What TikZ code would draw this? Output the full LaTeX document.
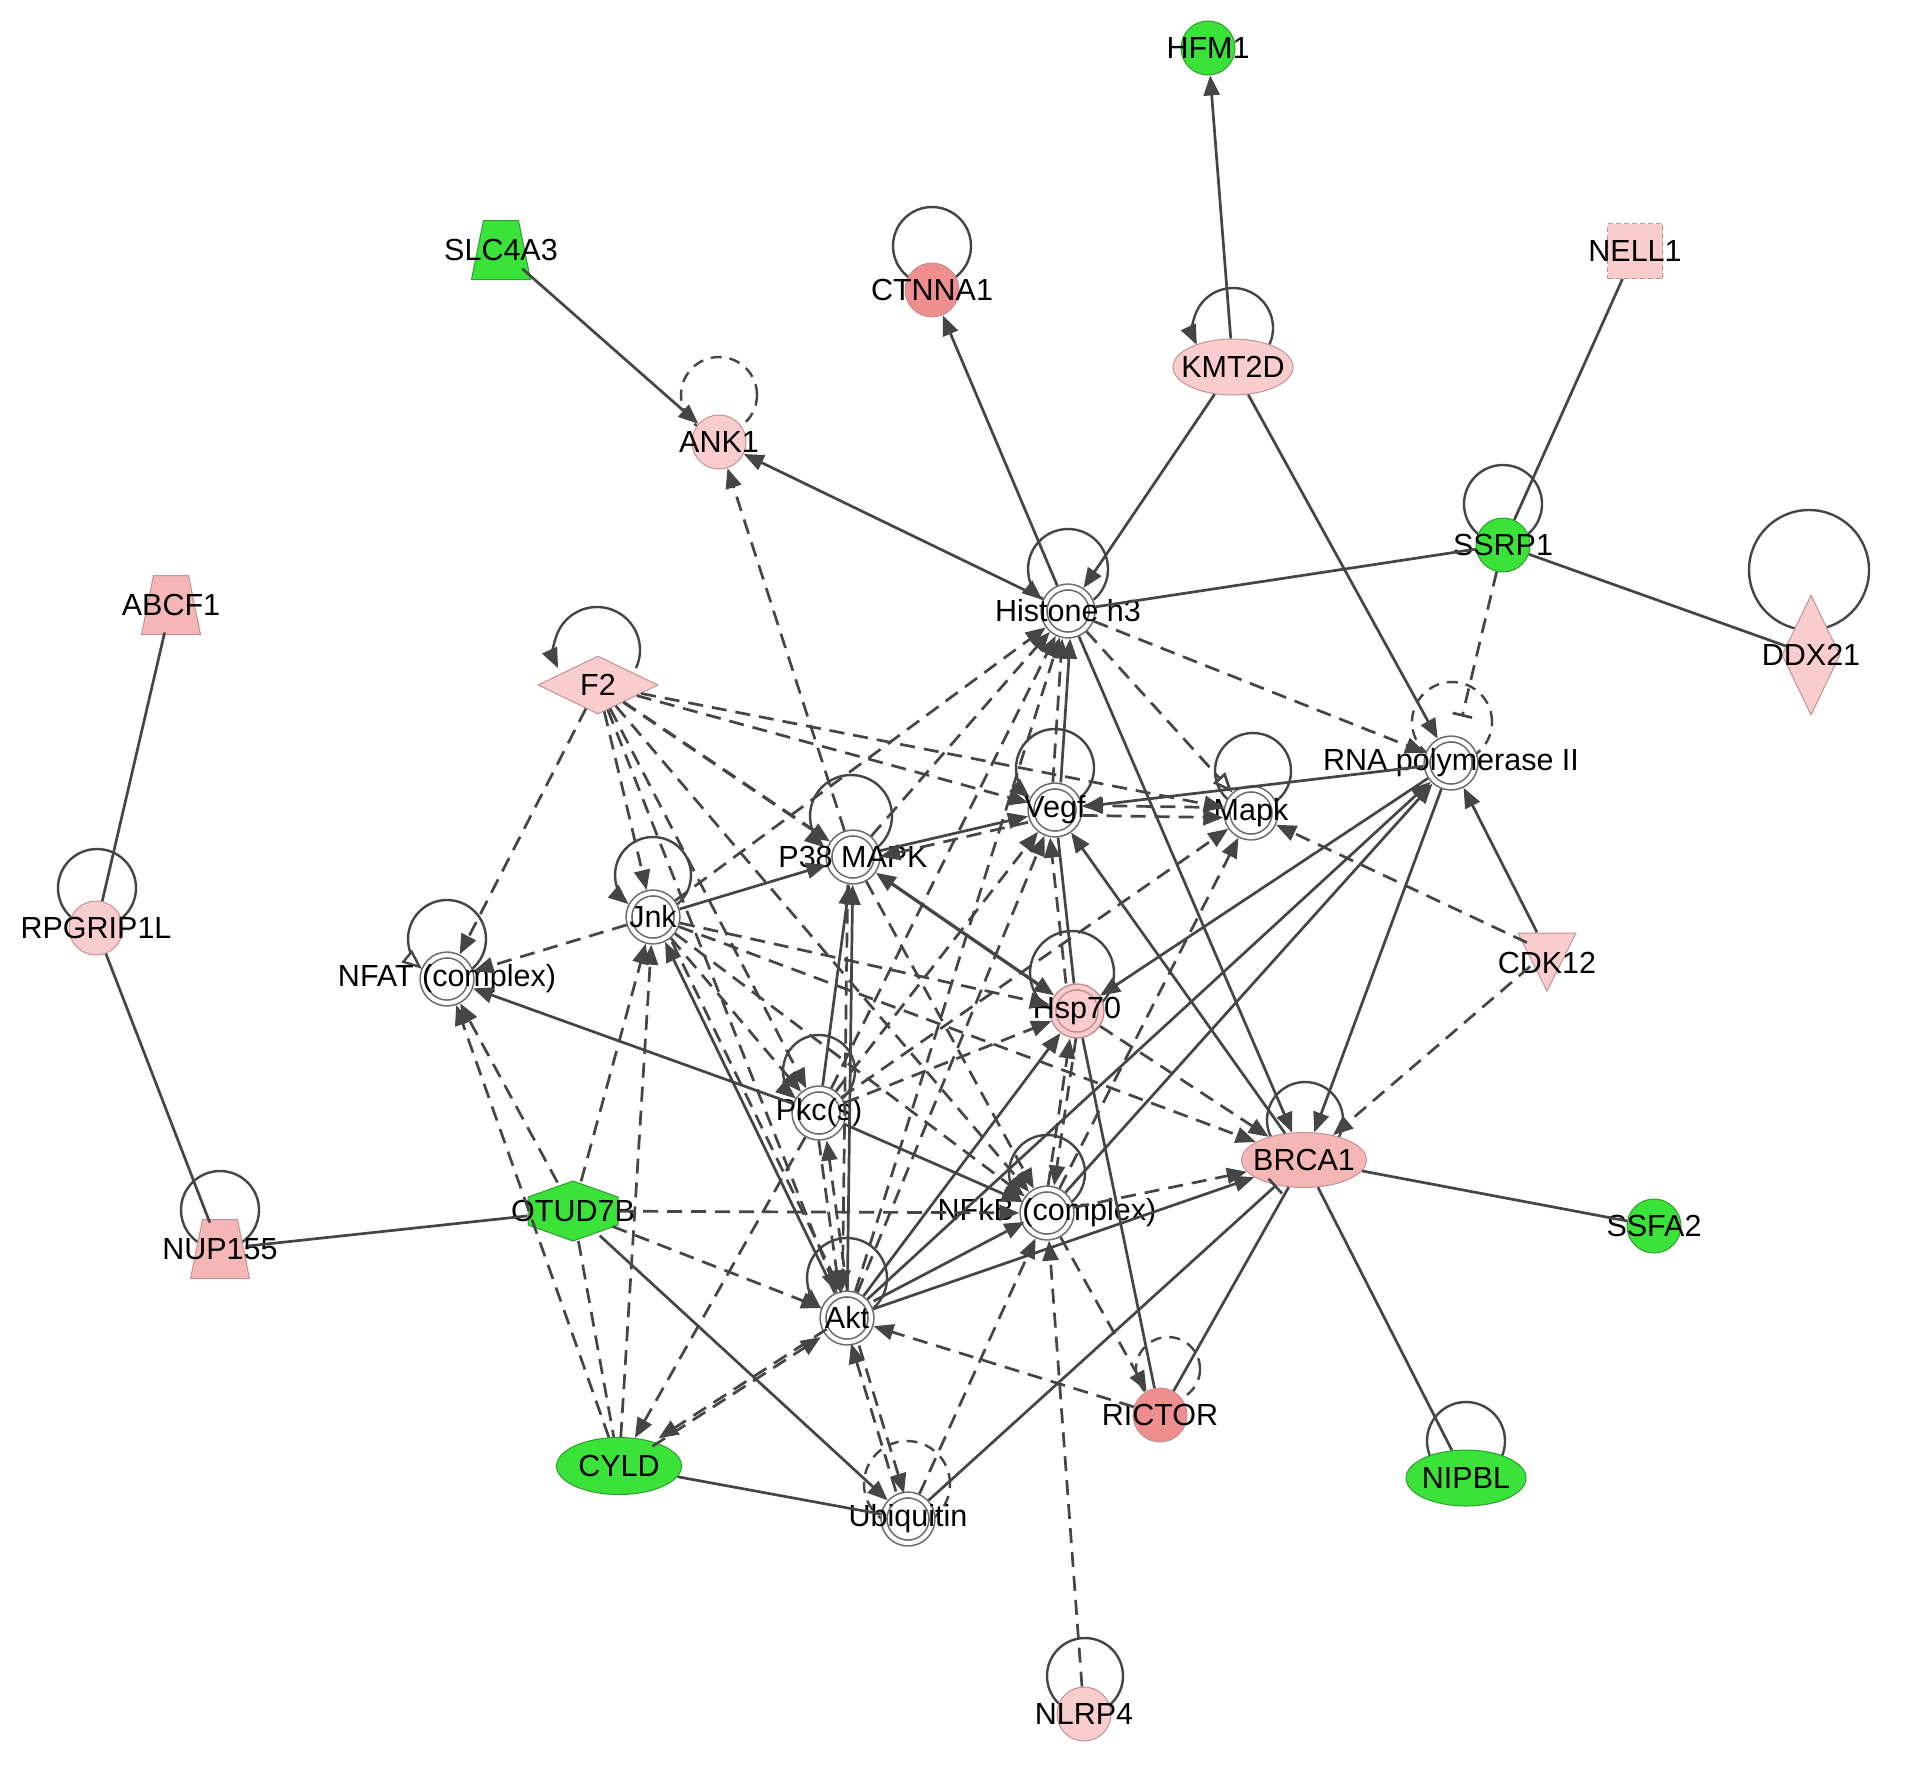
\documentclass[tikz,border=0pt]{standalone}
\usepackage{fontspec}
\setmainfont{Liberation Sans}
\usetikzlibrary{shapes.geometric,arrows.meta,calc}
\pgfdeclarelayer{bg}
\pgfsetlayers{bg,main}
\definecolor{ec}{HTML}{454545}
\definecolor{ringc}{HTML}{6A6A6A}
\definecolor{pkl}{HTML}{F9CDCD}
\definecolor{pkm}{HTML}{F5B6B6}
\definecolor{sal}{HTML}{EF8E8E}
\definecolor{grn}{HTML}{3AE23A}
\definecolor{pko}{HTML}{C49292}
\definecolor{gro}{HTML}{2E9E2E}
\newcommand\lblfont{\fontsize{30.5}{34}\selectfont}
\newcommand\ploop[7]{\draw[#7] ($(#1)+(#2,#3)+(#5:#4)$) arc[start angle=#5,end angle=#6,radius=#4];}
\newcommand\trapz[4]{\filldraw[fill=#3,draw=#4,line width=1pt] ($(#1,#2)+(-17.5,29.5)$) -- ($(#1,#2)+(17.5,29.5)$) -- ($(#1,#2)+(29.5,-29.5)$) -- ($(#1,#2)+(-29.5,-29.5)$) -- cycle;}
\begin{document}
\begin{tikzpicture}[x=1pt,y=1pt,
  lab/.style={font=\lblfont, inner sep=0pt, text=black},
  circ/.style={circle, minimum size=54pt, inner sep=0pt, line width=1pt},
  ell/.style={ellipse, inner sep=0pt, line width=1pt},
  fpl/.style={fill=pkl, draw=pko},
  fpm/.style={fill=pkm, draw=pko},
  fsa/.style={fill=sal, draw=pko},
  fgr/.style={fill=grn, draw=gro},
  dbl/.style={circle, draw=ringc, line width=1.6pt, double=white, double distance=4.2pt, fill=white, minimum size=48pt, inner sep=0pt, outer sep=3.7pt},
  anc/.style={circle, minimum size=56pt, inner sep=0pt},
  st/.style={draw=ec, line width=2.7pt},
  dd/.style={st, dash pattern=on 15pt off 9pt},
  ar/.style={-{Triangle[length=20pt,width=16pt]}},
  ba/.style={{Triangle[length=20pt,width=16pt]}-{Triangle[length=20pt,width=16pt]}},
  inh/.style={-{Bar[width=20pt,line width=2.7pt]}},
  oa/.style={-{Triangle[open,length=20pt,width=16pt,fill=white]}},
  lp/.style={draw=ec, line width=2.4pt},
  lpd/.style={lp, dash pattern=on 11pt off 8pt}
]
\useasboundingbox (0,0) rectangle (1913,-1769);

% ---------------- nodes ----------------
\node[circ,fgr,label={[lab]center:HFM1}] (hfm) at (1208,-48) {};
\trapz{501}{-250}{grn}{gro}
\node[anc,label={[lab]center:SLC4A3}] (slc) at (501,-250) {};
\node[circ,fsa,label={[lab]center:CTNNA1}] (ctn) at (932,-290) {};
\node[ell,fpl,minimum width=120pt,minimum height=56pt,label={[lab]center:KMT2D}] (kmt) at (1233,-367) {};
\node[rectangle,minimum size=55pt,inner sep=0pt,fill=pkl,draw=pko,line width=1pt,dash pattern=on 5pt off 3pt,label={[lab]center:NELL1}] (nell) at (1635,-251) {};
\node[circ,fpl,label={[lab]center:ANK1}] (ank) at (719,-442) {};
\node[circ,fgr,label={[lab]center:SSRP1}] (ssrp) at (1503,-545) {};
\node[diamond,minimum width=58pt,minimum height=120pt,inner sep=0pt,line width=1pt,fpl,label={[lab]center:DDX21}] (ddx) at (1811,-655) {};
\node[dbl,label={[lab]center:{Histone h3}}] (his) at (1068,-611) {};
\trapz{171}{-605}{pkm}{pko}
\node[anc,label={[lab]center:ABCF1}] (abcf) at (171,-605) {};
\node[diamond,minimum width=120pt,minimum height=58pt,inner sep=0pt,line width=1pt,fpl,label={[lab]center:F2}] (ftwo) at (598,-685) {};
\node[dbl,label={[lab]center:{RNA polymerase II}}] (rna) at (1451,-763) {};
\node[dbl,label={[lab]center:Vegf}] (vegf) at (1055,-810) {};
\node[dbl,label={[lab]center:Mapk}] (mapk) at (1251,-813) {};
\node[dbl,label={[lab]center:{P38 MAPK}}] (pmk) at (853,-857) {};
\node[circ,fpl,label={[lab]center:RPGRIP1L}] (rpg) at (96,-928) {};
\node[dbl,label={[lab]center:Jnk}] (jnk) at (653,-917) {};
\node[dbl,label={[lab]center:{NFAT (complex)}}] (nfat) at (447,-979) {};
\node[dbl,draw=pko,double=pkl,fill=pkl,label={[lab]center:Hsp70}] (hsp) at (1077,-1011) {};
\filldraw[fill=pkl,draw=pko,line width=1pt] (1518,-933) -- (1576,-933) -- (1547,-991) -- cycle;
\node[circle,minimum size=44pt,inner sep=0pt] (cdk) at (1547,-952) {};
\node[lab] (cdkl) at (1547,-963) {CDK12};
\node[dbl,label={[lab]center:Pkc(s)}] (pkc) at (819,-1113) {};
\node[ell,fpm,minimum width=125pt,minimum height=55pt,label={[lab]center:BRCA1}] (brca) at (1304,-1160) {};
\node[dbl,label={[lab]center:{NFkB (complex)}}] (nfkb) at (1047,-1213) {};
\filldraw[fill=grn,draw=gro,line width=1pt] (573,-1181) -- (618,-1197) -- (618,-1225) -- (573,-1241) -- (528,-1225) -- (528,-1197) -- cycle;
\node[ellipse,minimum width=92pt,minimum height=60pt,inner sep=0pt,label={[lab]center:OTUD7B}] (otud) at (573,-1211) {};
\trapz{220}{-1249}{pkm}{pko}
\node[anc,label={[lab]center:NUP155}] (nup) at (220,-1249) {};
\node[circ,fgr,label={[lab]center:SSFA2}] (ssfa) at (1654,-1226) {};
\node[dbl,label={[lab]center:Akt}] (akt) at (847,-1318) {};
\node[circ,fsa,label={[lab]center:RICTOR}] (ric) at (1160,-1415) {};
\node[ell,fgr,minimum width=125pt,minimum height=57pt,label={[lab]center:CYLD}] (cyld) at (619,-1466) {};
\node[ell,fgr,minimum width=120pt,minimum height=56pt,label={[lab]center:NIPBL}] (nipbl) at (1466,-1478) {};
\node[dbl,label={[lab]center:Ubiquitin}] (ubi) at (908,-1519) {};
\node[circ,fpl,label={[lab]center:NLRP4}] (nlrp) at (1084,-1714) {};

% ---------------- background and self-loops ----------------
\begin{pgfonlayer}{bg}
\fill[white] (0,0) rectangle (1913,-1769);
\ploop{ctn}{0}{44}{39}{0}{360}{lp}
\ploop{kmt}{0}{39}{40}{-25}{205}{lp,ar}
\ploop{ank}{0}{47}{38}{0}{360}{lpd}
\ploop{ssrp}{0}{41}{39}{0}{360}{lp}
\ploop{ddx}{-2}{85}{60}{0}{360}{lp}
\ploop{his}{0}{42}{40}{-50}{230}{lp,ar}
\ploop{ftwo}{-1}{35}{43}{-25}{205}{lp,ar}
\ploop{rna}{1}{41}{40}{0}{360}{lpd}
\ploop{vegf}{0}{42}{39}{-50}{230}{lp,ar}
\ploop{mapk}{2}{42}{38}{0}{360}{lp}
\ploop{pmk}{-2}{41}{41}{-50}{230}{lp,ar}
\ploop{rpg}{1}{40}{39}{0}{360}{lp}
\ploop{jnk}{0}{42}{38}{-50}{230}{lp,ar}
\ploop{nfat}{0}{40}{39}{-50}{230}{lp,oa}
\ploop{hsp}{-5}{38}{42}{0}{360}{lp}
\ploop{pkc}{0}{42}{36}{-50}{230}{lp,ar}
\ploop{brca}{1}{40}{38}{0}{360}{lp}
\ploop{nfkb}{0}{40}{38}{-50}{230}{lp,ar}
\ploop{nup}{0}{39}{39}{0}{360}{lp}
\ploop{akt}{0}{40}{40}{-50}{230}{lp,ar}
\ploop{ric}{8}{46}{32}{0}{360}{lpd}
\ploop{nipbl}{0}{37}{39}{0}{360}{lp}
\ploop{ubi}{-1}{35}{43}{0}{360}{lpd}
\ploop{nlrp}{1}{38}{38}{0}{360}{lp}
\end{pgfonlayer}

% ---------------- solid edges ----------------
\draw[st,ar] (kmt) -- (hfm);
\draw[st,ar] (slc) -- (ank);
\draw[st,ar] (his) -- (ctn);
\draw[st,ar] (his) -- (ank);
\draw[st,ar] (kmt) -- (his);
\draw[st,ar] (kmt) -- (rna);
\draw[st] (nell) -- (ssrp);
\draw[st] (his) -- (ssrp);
\draw[st] (ssrp) -- (ddx);
\draw[st] (abcf) -- (rpg);
\draw[st] (rpg) -- (nup);
\draw[st] (nup) -- (otud);
\draw[st] (cyld) -- (ubi);
\draw[st] (brca) -- (ssfa);
\draw[st] (brca) -- (nipbl);
\draw[st] (ric) -- (brca);
\draw[st,ar] (his) -- (brca);
\draw[st,ar] (brca) -- (vegf);
\draw[st,ar] (rna) -- (brca);
\draw[st,ar] (akt) -- (brca);
\draw[st,inh] (ubi) -- (brca);
\draw[st] (hsp) -- (ric);
\draw[st,ar] (rna) -- (hsp);
\draw[st,ar] (nfkb) -- (rna);
\draw[st,ar] (akt) -- (rna);
\draw[st,ar] (rna) -- (vegf);
\draw[st,ar] (cdk) -- (rna);
\draw[st,ar] (jnk) -- (pmk);
\draw[st,ar] (pkc) -- (pmk);
\draw[st,ar] (akt) -- (pmk);
\draw[st,ba,line width=3.3pt] (pmk) -- (hsp);
\draw[st,ar] (pmk) -- (vegf);
\draw[st,ar,transform canvas={xshift=4pt}] (vegf) -- (his);
\draw[st] (hsp) -- (vegf);
\draw[st,ar] (pkc) -- (nfat);
\draw[st,ar] (pkc) -- (nfkb);
\draw[st,ar] (akt) -- (jnk);
\draw[st,ar] (akt) -- (hsp);
\draw[st,ar] (otud) -- (ubi);
\draw[st,ar,transform canvas={shift={(2pt,4pt)}}] (akt) -- (nfkb);

% ---------------- dashed edges ----------------
\draw[dd,inh,shorten >=20pt] (ssrp) -- (rna);
\draw[dd,ar] (pmk) -- (ank);
\draw[dd,ar] (his) -- (rna);
\draw[dd,oa] (his) -- (mapk);
\draw[dd,ar] (jnk) -- (his);
\draw[dd,ar] (pmk) -- (his);
\draw[dd,ar] (pkc) -- (his);
\draw[dd,ar] (akt) -- (his);
\draw[dd,ar,transform canvas={xshift=-4pt}] (vegf) -- (his);
\draw[dd,ar,transform canvas={xshift=-8pt}] (hsp) -- (vegf);
\draw[dd,ar] (ftwo) -- (nfat);
\draw[dd,ar] (ftwo) -- (jnk);
\draw[dd,ar] (ftwo) -- (pkc);
\draw[dd,ar] (ftwo) -- (akt);
\draw[dd,ar] (ftwo) -- (nfkb);
\draw[dd,ar,line width=3.3pt] (ftwo) -- (pmk);
\draw[dd,ar] (ftwo) -- (vegf);
\draw[dd,ar] (ftwo) -- (mapk);
\draw[dd,ar] (jnk) -- (nfat);
\draw[dd,ar] (otud) -- (nfat);
\draw[dd,ar] (cyld) -- (nfat);
\draw[dd,ar] (otud) -- (jnk);
\draw[dd,ar] (cyld) -- (jnk);
\draw[dd,ar] (otud) -- (nfkb);
\draw[dd,ar] (otud) -- (akt);
\draw[dd] (otud) -- (cyld);
\draw[dd,ar] (pkc) -- (cyld);
\draw[dd,ar,transform canvas={shift={(3pt,4pt)}}] (akt) -- (cyld);
\draw[dd,ar,transform canvas={shift={(-3pt,-4pt)}}] (cyld) -- (akt);
\draw[dd,ar,transform canvas={shift={(4pt,-1pt)}}] (akt) -- (ubi);
\draw[dd,ar,transform canvas={shift={(-4pt,1pt)}}] (ubi) -- (akt);
\draw[dd,ar] (ubi) -- (nfkb);
\draw[dd,ar] (nlrp) -- (nfkb);
\draw[dd,ar] (ric) -- (akt);
\draw[dd,ar] (nfkb) -- (ric);
\draw[dd,ar] (nfkb) -- (brca);
\draw[dd,ar] (jnk) -- (brca);
\draw[dd,ar] (hsp) -- (brca);
\draw[dd,ar] (cdk) -- (brca);
\draw[dd,ar] (cdk) -- (mapk);
\draw[dd,ar,transform canvas={yshift=5pt}] (mapk) -- (vegf);
\draw[dd,ar,transform canvas={yshift=-5pt}] (vegf) -- (mapk);
\draw[dd,ar,transform canvas={yshift=-6pt}] (vegf) -- (pmk);
\draw[dd,ar] (pkc) -- (vegf);
\draw[dd,ar] (akt) -- (vegf);
\draw[dd,ar] (pkc) -- (mapk);
\draw[dd,ar] (nfkb) -- (mapk);
\draw[dd,ar] (jnk) -- (hsp);
\draw[dd,ar] (pkc) -- (hsp);
\draw[dd,ar,transform canvas={xshift=3pt}] (hsp) -- (nfkb);
\draw[dd,ar,transform canvas={xshift=-3pt}] (nfkb) -- (hsp);
\draw[dd,ar] (jnk) -- (pkc);
\draw[dd,ar] (jnk) -- (nfkb);
\draw[dd,ar] (pmk) -- (nfkb);
\draw[dd,ar,transform canvas={xshift=-5pt}] (pmk) -- (akt);
\draw[dd,ar,transform canvas={xshift=-4pt}] (pkc) -- (akt);
\draw[dd,ar,transform canvas={xshift=4pt}] (akt) -- (pkc);
\draw[dd,ar,transform canvas={xshift=7pt}] (jnk) -- (akt);
\end{tikzpicture}
\end{document}
